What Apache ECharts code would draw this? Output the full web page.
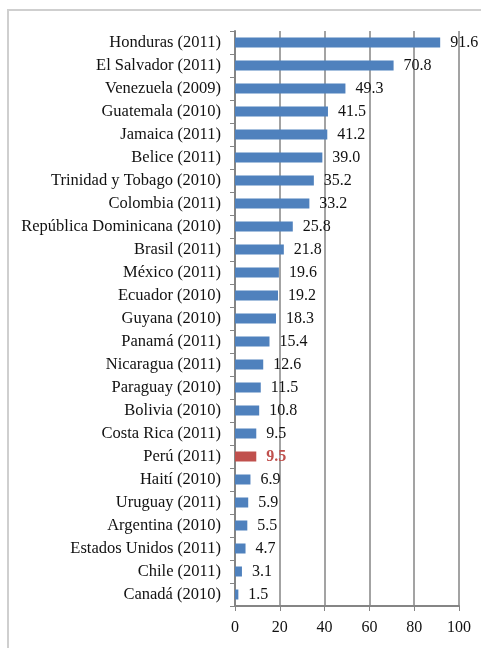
<!DOCTYPE html>
<html>
<head>
<meta charset="utf-8">
<script src="https://cdn.jsdelivr.net/npm/echarts@6/dist/echarts.min.js"></script>
<style>
  html, body { margin: 0; padding: 0; background: #fff; }
  #chart { width: 481px; height: 648px; }
</style>
</head>
<body>
<div id="chart"></div>
<script>
// top to bottom as drawn in the picture
var countries = ['Honduras (2011)', 'El Salvador (2011)', 'Venezuela (2009)', 'Guatemala (2010)',
  'Jamaica (2011)', 'Belice (2011)', 'Trinidad y Tobago (2010)', 'Colombia (2011)',
  'República Dominicana (2010)', 'Brasil (2011)', 'México (2011)', 'Ecuador (2010)',
  'Guyana (2010)', 'Panamá (2011)', 'Nicaragua (2011)', 'Paraguay (2010)', 'Bolivia (2010)',
  'Costa Rica (2011)', 'Perú (2011)', 'Haití (2010)', 'Uruguay (2011)', 'Argentina (2010)',
  'Estados Unidos (2011)', 'Chile (2011)', 'Canadá (2010)'];
var rates = [91.6, 70.8, 49.3, 41.5, 41.2, 39.0, 35.2, 33.2, 25.8, 21.8, 19.6, 19.2, 18.3,
  15.4, 12.6, 11.5, 10.8, 9.5, 9.5, 6.9, 5.9, 5.5, 4.7, 3.1, 1.5];
var highlight = 'Perú (2011)';
var xTicks = [0, 20, 40, 60, 80, 100];

var blue = '#4F81BD';
var red = '#C0504D';

var chart = echarts.init(document.getElementById('chart'));

var barData = rates.map(function (v, i) {
  var hi = countries[i] === highlight;
  return {
    value: v,
    itemStyle: { color: hi ? red : blue },
    label: hi ? { color: red, fontWeight: 'bold' } : {}
  };
});

var option = {
  animation: false,
  textStyle: { fontFamily: 'Liberation Serif' },
  graphic: [{
    type: 'rect',
    shape: { x: 8, y: 10, width: 500, height: 660 },
    style: { fill: 'none', stroke: '#cfcfcf', lineWidth: 2 }
  }],
  grid: { left: 235, right: 22, top: 31, bottom: 42 },
  xAxis: {
    type: 'value',
    min: xTicks[0],
    max: xTicks[xTicks.length - 1],
    interval: 20,
    axisLine: { show: true, lineStyle: { color: '#858585', width: 2 } },
    axisTick: { show: true, length: 5, lineStyle: { color: '#858585' } },
    axisLabel: { color: '#111', fontSize: 16, margin: 14, fontFamily: 'Liberation Serif' },
    splitLine: { show: true, lineStyle: { color: '#999', width: 1.8 } }
  },
  yAxis: {
    type: 'category',
    inverse: true,
    data: countries,
    axisLine: { show: true, lineStyle: { color: '#858585', width: 2 } },
    axisTick: { show: true, length: 5, lineStyle: { color: '#858585' } },
    axisLabel: { color: '#111', fontSize: 16.5, margin: 14, fontFamily: 'Liberation Serif' }
  },
  series: [{
    type: 'bar',
    data: barData,
    barWidth: 10,
    label: {
      show: true,
      position: 'right',
      distance: 10,
      color: '#111',
      fontSize: 16,
      fontFamily: 'Liberation Serif',
      formatter: function (p) { return p.value.toFixed(1); }
    }
  }]
};

chart.setOption(option);
</script>
</body>
</html>
